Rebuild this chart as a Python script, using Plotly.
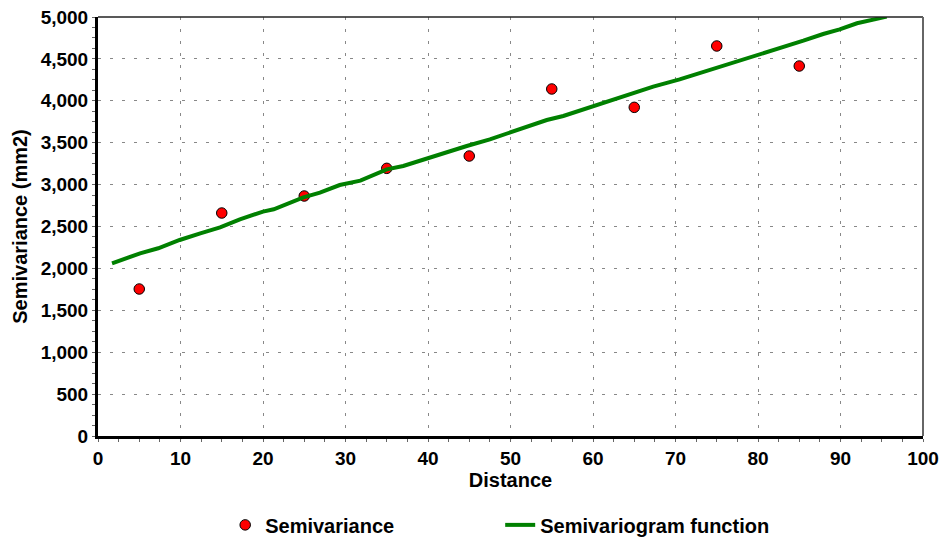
import plotly.graph_objects as go

# Empirical semivariance points
lag_distance = [5, 15, 25, 35, 45, 55, 65, 75, 85]
semivariance = [1754, 2661, 2864, 3194, 3341, 4141, 3922, 4654, 4415]

# Fitted semivariogram function
fit_distance = [1.7, 5.1, 7.3, 9.9, 12.4, 14.8, 17.2, 20.0, 21.3, 24.9, 26.9, 29.3,
                31.8, 35.0, 37.0, 40.2, 44.7, 47.5, 49.5, 52.0, 54.4, 56.4, 60.0,
                62.5, 64.9, 67.3, 70.5, 74.2, 77.4, 79.8, 82.7, 85.5, 87.9, 89.9,
                92.0, 94.0, 95.6]
fit_value = [2061, 2180, 2240, 2339, 2419, 2490, 2586, 2677, 2705, 2848, 2904, 2995,
             3047, 3182, 3222, 3325, 3461, 3540, 3604, 3691, 3771, 3819, 3938,
             4010, 4090, 4169, 4256, 4368, 4467, 4547, 4638, 4717, 4797, 4853,
             4925, 4972, 5004]

x_ticks = [0, 10, 20, 30, 40, 50, 60, 70, 80, 90, 100]
y_ticks = [0, 500, 1000, 1500, 2000, 2500, 3000, 3500, 4000, 4500, 5000]

FONT = "Liberation Sans, Arial, sans-serif"

fig = go.Figure()
fig.add_trace(go.Scatter(
    x=lag_distance, y=semivariance, mode="markers", name="Semivariance",
    marker=dict(color="#ff0000", size=10.5, line=dict(color="black", width=1)),
    cliponaxis=True,
))
fig.add_trace(go.Scatter(
    x=fit_distance, y=fit_value, mode="lines", name="Semivariogram function",
    line=dict(color="#008000", width=4),
    cliponaxis=True,
))

axis_common = dict(
    showline=True, linecolor="black", linewidth=3,
    showgrid=True, gridcolor="#888888", gridwidth=1, griddash="3px,9px",
    zeroline=False, automargin=False,
    ticks="outside", ticklen=3, tickwidth=1, tickcolor="#666666",
    tickfont=dict(family=FONT, size=19, color="black", weight="bold"),
)

fig.update_xaxes(
    range=[0, 100], tickvals=x_ticks, ticktext=[str(v) for v in x_ticks],
    minor=dict(dtick=2.5, ticks="outside", ticklen=3, tickcolor="#666666", showgrid=False),
    title=dict(text="Distance", font=dict(family=FONT, size=20, color="black", weight="bold"),
               standoff=2),
    **axis_common,
)
fig.update_yaxes(
    range=[0, 5000], tickvals=y_ticks, ticktext=[f"{v:,}" for v in y_ticks],
    minor=dict(dtick=125, ticks="outside", ticklen=3, tickcolor="#666666", showgrid=False),
    title=dict(text="Semivariance (mm2)", font=dict(family=FONT, size=20, color="black", weight="bold"),
               standoff=8),
    **axis_common,
)

# frame top/right
fig.add_shape(type="line", xref="paper", yref="paper", x0=0, x1=1, y0=1, y1=1,
              line=dict(color="#222222", width=1.5), layer="above")
fig.add_shape(type="line", xref="paper", yref="paper", x0=1, x1=1, y0=0, y1=1,
              line=dict(color="#666666", width=2), layer="above")

fig.update_layout(
    width=943, height=540,
    margin=dict(l=98, r=20, t=17, b=104, autoexpand=False),
    paper_bgcolor="white", plot_bgcolor="white",
    font=dict(family=FONT, color="black"),
    showlegend=True,
    legend=dict(
        orientation="h", x=0.4875, xanchor="center",
        yref="container", y=0.028, yanchor="middle",
        font=dict(family=FONT, size=20, color="black", weight="bold"),
        entrywidth=230, entrywidthmode="pixels",
        bgcolor="rgba(0,0,0,0)",
    ),
)

fig.write_html(
    "out.html",
    config={"displayModeBar": False},
    post_script="document.body.style.margin='0';document.body.style.overflow='hidden';",
)
